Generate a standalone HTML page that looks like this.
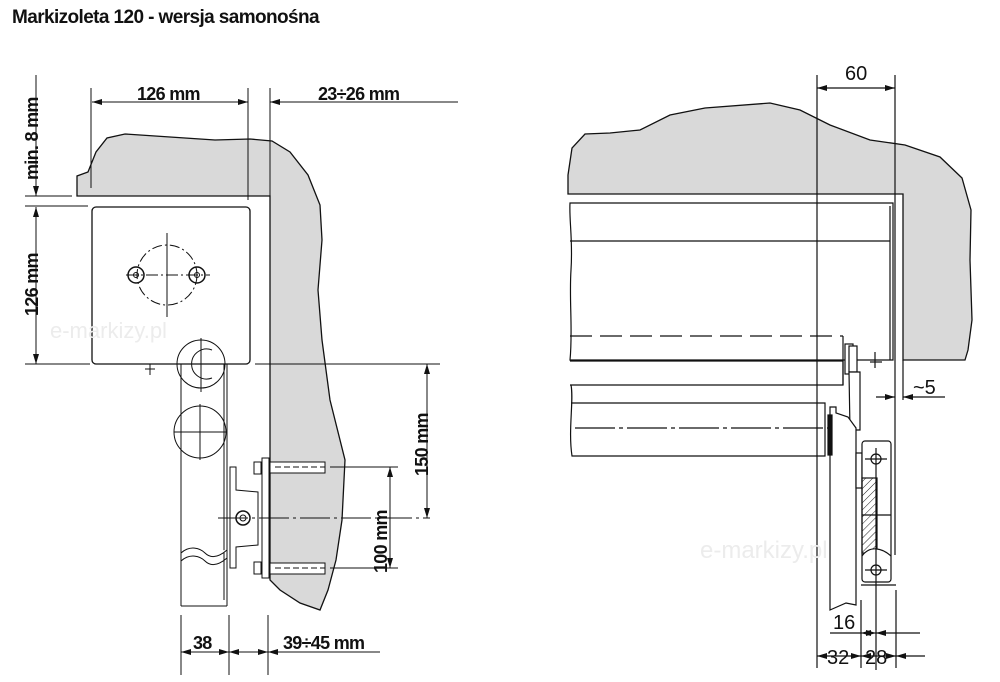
<!DOCTYPE html>
<html><head><meta charset="utf-8"><style>
html,body{margin:0;padding:0;background:#fff}
svg{display:block}
text{font-family:"Liberation Sans",sans-serif;fill:#111}
</style></head><body>
<svg width="1000" height="682" viewBox="0 0 1000 682" xmlns="http://www.w3.org/2000/svg">
<defs>
<marker id="a" viewBox="0 0 10 6" refX="10" refY="3" markerWidth="10" markerHeight="6" orient="auto-start-reverse" markerUnits="userSpaceOnUse"><path d="M0,0 L10,3 L0,6 z" fill="#111"/></marker>
<pattern id="h" width="5" height="5" patternUnits="userSpaceOnUse" patternTransform="rotate(45)"><line x1="0" y1="0" x2="0" y2="5" stroke="#222" stroke-width="1"/></pattern>
</defs>
<text x="12" y="23" font-size="19" font-weight="bold" letter-spacing="-0.6">Markizoleta 120 - wersja samonośna</text>

<!-- LEFT VIEW -->
<path d="M77,196 L77,176 L88,172 L96,152 L107,138 L125,134 L170,137 L215,140 L250,139 L272,141 L290,152 L308,175 L320,205 L322,240 L318,290 L322,340 L330,400 L345,460 L342,520 L336,560 L328,590 L320,610 L300,603 L280,590 L270,580 L270,196 Z" fill="#d9d9d9" stroke="#111" stroke-width="1.3"/>
<rect x="92" y="207" width="158" height="157" rx="4" fill="#fff" stroke="#111" stroke-width="1.3"/>
<g fill="none" stroke="#111" stroke-width="1">
<circle cx="167" cy="275" r="30" stroke-dasharray="10,3,2,3"/>
<line x1="167" y1="233" x2="167" y2="317"/><line x1="126" y1="275" x2="210" y2="275" stroke-dasharray="12,3,2,3"/>
<circle cx="136" cy="275" r="8" stroke-width="1.5"/><circle cx="136" cy="275" r="2.5"/>
<circle cx="197" cy="275" r="8" stroke-width="1.5"/><circle cx="197" cy="275" r="2.5"/>
<line x1="150" y1="364" x2="150" y2="375"/><line x1="145" y1="369" x2="155" y2="369"/>
<line x1="181" y1="364" x2="181" y2="606"/><line x1="227" y1="364" x2="227" y2="606"/><line x1="181" y1="606" x2="227" y2="606"/>
<line x1="224" y1="364" x2="224" y2="600"/>
<circle cx="201" cy="364" r="24"/><path d="M212,350 A15,15 0 1 0 212,378"/>
<line x1="201" y1="338" x2="201" y2="392"/>
<circle cx="200" cy="432" r="26"/>
<line x1="200" y1="404" x2="200" y2="460"/><line x1="174" y1="432" x2="226" y2="432"/>
<path d="M181,553 C190,545 200,548 205,553 C212,560 220,556 227,550" fill="#fff"/>
<path d="M181,561 C190,553 200,556 205,561 C212,568 220,564 227,558"/>
<path d="M230,467 L236,467 L236,490 L258,492 L258,545 L236,547 L236,568 L230,568 Z" fill="#fff"/>
<rect x="262" y="458" width="7" height="120" fill="#fff"/>
<rect x="254" y="462" width="7" height="12" fill="#fff"/><rect x="254" y="562" width="7" height="12" fill="#fff"/>
<circle cx="243" cy="518" r="7" stroke-width="1.5"/><circle cx="243" cy="518" r="3"/>
<rect x="270" y="462" width="55" height="11" fill="#fff"/><rect x="270" y="563" width="55" height="11" fill="#fff"/>
<line x1="275" y1="467" x2="325" y2="467" stroke-dasharray="6,3"/><line x1="275" y1="568" x2="325" y2="568" stroke-dasharray="6,3"/>
<line x1="218" y1="518" x2="430" y2="518" stroke-dasharray="30,4,3,4"/>
<line x1="91" y1="88" x2="91" y2="188"/><line x1="248" y1="88" x2="248" y2="200"/><line x1="270" y1="88" x2="270" y2="196"/>
<line x1="92" y1="102" x2="248" y2="102" marker-start="url(#a)" marker-end="url(#a)"/>
<line x1="458" y1="102" x2="270" y2="102" marker-end="url(#a)"/>
<line x1="36" y1="75" x2="36" y2="196" marker-end="url(#a)"/>
<line x1="25" y1="196" x2="72" y2="196"/><line x1="25" y1="206" x2="88" y2="206"/>
<line x1="36" y1="207" x2="36" y2="364" marker-start="url(#a)" marker-end="url(#a)"/>
<line x1="25" y1="364" x2="90" y2="364"/>
<line x1="255" y1="364" x2="440" y2="364"/>
<line x1="427" y1="364" x2="427" y2="518" marker-start="url(#a)" marker-end="url(#a)"/>
<line x1="330" y1="467" x2="398" y2="467"/><line x1="330" y1="568" x2="398" y2="568"/>
<line x1="390" y1="467" x2="390" y2="568" marker-start="url(#a)" marker-end="url(#a)"/>
<line x1="181" y1="615" x2="181" y2="675"/><line x1="229" y1="615" x2="229" y2="675"/><line x1="268" y1="615" x2="268" y2="675"/>
<line x1="181" y1="652" x2="229" y2="652" marker-start="url(#a)" marker-end="url(#a)"/>
<line x1="229" y1="652" x2="268" y2="652" marker-start="url(#a)" marker-end="url(#a)"/>
<line x1="380" y1="652" x2="268" y2="652" marker-end="url(#a)"/>
</g>
<g font-weight="bold" font-size="18" letter-spacing="-0.7">
<text x="137" y="100">126 mm</text>
<text x="318" y="100">23÷26 mm</text>
<text transform="translate(38,180) rotate(-90)">min. 8 mm</text>
<text transform="translate(38,316) rotate(-90)">126 mm</text>
<text transform="translate(428,476) rotate(-90)">150 mm</text>
<text transform="translate(387,573) rotate(-90)">100 mm</text>
<text x="193" y="649">38</text>
<text x="283" y="649">39÷45 mm</text>
</g>
<text x="50" y="338" font-size="22" style="fill:#ececec">e-markizy.pl</text>

<!-- RIGHT VIEW -->
<path d="M568,194 L568,175 L572,148 L585,134 L610,133 L640,130 L670,115 L705,108 L770,103 L800,110 L830,125 L870,140 L905,145 L940,157 L962,178 L971,210 L970,260 L972,320 L968,350 L965,360 L903,360 L903,194 Z" fill="#d9d9d9" stroke="#111" stroke-width="1.3"/>
<g fill="none" stroke="#111" stroke-width="1.2">
<path d="M570,203 L893,203 L893,360 L570,360 C573,330 569,300 571,270 C573,240 569,220 570,203 Z" fill="#fff"/>
<line x1="570" y1="241" x2="890" y2="241"/><line x1="890" y1="206" x2="890" y2="360"/>
<line x1="570" y1="336" x2="843" y2="336" stroke-dasharray="22,8"/>
<path d="M570,361 L843,361 L843,385 L570,385" fill="#fff"/>
<line x1="843" y1="336" x2="843" y2="385"/>
<path d="M571,385 C574,400 568,430 572,456 L825,456 L825,403 L571,403" fill="#fff"/>
<line x1="575" y1="428" x2="835" y2="428" stroke-dasharray="40,4,4,4"/>
<rect x="845" y="344" width="8" height="30" fill="#fff"/><rect x="849" y="346" width="8" height="26" fill="#fff"/>
<line x1="875" y1="352" x2="875" y2="368"/><line x1="870" y1="362" x2="882" y2="362"/>
<path d="M849,372 L860,372 L860,430 L850,430 Z" fill="#fff"/>
<path d="M830,407 L836,407 L836,413 L848,417 L856,428 L856,605 L846,603 L830,610 Z" fill="#fff"/>
<rect x="828" y="415" width="4" height="40" fill="#111"/>
<rect x="856" y="453" width="6" height="35" fill="#fff"/>
<rect x="862" y="441" width="29" height="141" rx="3" fill="#fff"/>
<rect x="862" y="478" width="15" height="75" fill="url(#h)"/>
<path d="M862,556 C870,545 882,548 891,556" fill="#fff"/>
<circle cx="876" cy="459" r="5"/><circle cx="876" cy="570" r="5"/>
<line x1="865" y1="459" x2="887" y2="459"/><line x1="865" y1="570" x2="887" y2="570"/>
<line x1="876" y1="448" x2="876" y2="670"/>
<line x1="862" y1="515" x2="891" y2="515"/>
<line x1="895" y1="194" x2="895" y2="555"/><line x1="903" y1="360" x2="903" y2="400"/>
<line x1="861" y1="585" x2="896" y2="585"/>
<line x1="817" y1="75" x2="817" y2="668"/><line x1="895" y1="75" x2="895" y2="194"/>
<line x1="817" y1="88" x2="895" y2="88" marker-start="url(#a)" marker-end="url(#a)"/>
<line x1="876" y1="397" x2="895" y2="397" marker-end="url(#a)"/>
<line x1="945" y1="397" x2="903" y2="397" marker-end="url(#a)"/>
<line x1="861" y1="600" x2="861" y2="668"/><line x1="896" y1="590" x2="896" y2="668"/>
<line x1="830" y1="633" x2="861" y2="633"/>
<line x1="861" y1="633" x2="876" y2="633" marker-start="url(#a)" marker-end="url(#a)"/>
<line x1="920" y1="633" x2="876" y2="633" marker-end="url(#a)"/>
<line x1="817" y1="656" x2="861" y2="656" marker-start="url(#a)" marker-end="url(#a)"/>
<line x1="861" y1="656" x2="896" y2="656" marker-start="url(#a)" marker-end="url(#a)"/>
<line x1="925" y1="656" x2="896" y2="656" marker-end="url(#a)"/>
</g>
<g font-size="20">
<text x="845" y="80">60</text>
<text x="913" y="394">~5</text>
<text x="833" y="629">16</text>
<text x="827" y="664">32</text>
<text x="865" y="664">28</text>
</g>
<text x="700" y="558" font-size="24" style="fill:#ececec">e-markizy.pl</text>
</svg>
</body></html>
